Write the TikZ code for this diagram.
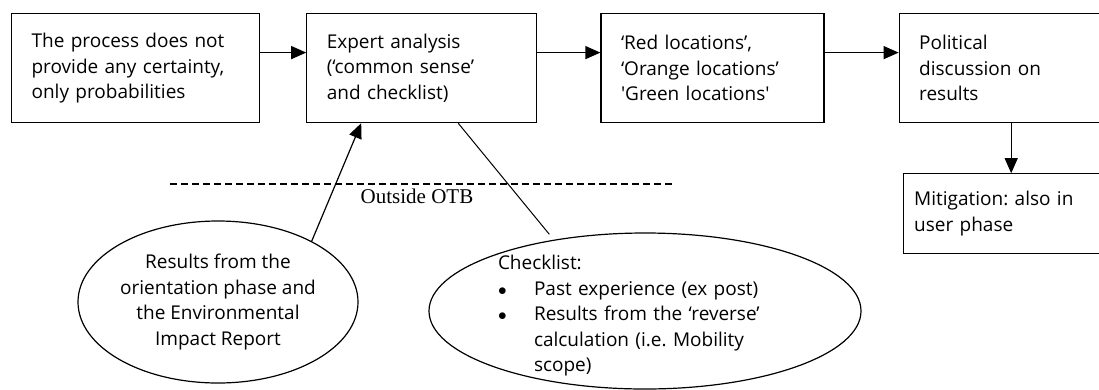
\documentclass[tikz,border=0pt]{standalone}
\usepackage{fontspec}
\setmainfont{Open Sans}
\newfontfamily\otbfont{Liberation Serif}
\usetikzlibrary{shapes.geometric, arrows.meta, positioning}
\frenchspacing

\begin{document}
\begin{tikzpicture}[x=1pt, y=-1pt, node distance = 46pt, auto,
    font=\fontsize{19}{25.5}\selectfont]
  \tikzstyle{block} = [rectangle, draw, line width=1.2pt, text=black, align=left,
      inner xsep=20pt, minimum height=109pt]
  \tikzstyle{bubble} = [ellipse, draw, line width=1.2pt, inner sep=0pt, align=center]
  \tikzstyle{line} = [draw, line width=1.2pt, -{Triangle[length=15pt, width=13pt]}]
  \tikzstyle{link} = [draw, line width=1pt]
  \newcommand{\itembullet}{\makebox[36pt][l]{$\bullet$}}
  \useasboundingbox (0,0) rectangle (1099,389);
      % Place nodes
      \node [block, text width=208pt, anchor=north west] (certainty) at (11,13)
          {The process does not\\ provide any certainty,\\ only probabilities};
      \node [block, text width=190pt, right=46pt of certainty] (expert)
          {Expert analysis\\ (‘common sense’\\ and checklist)};
      \node [block, text width=183pt, right=63pt of expert] (colours)
          {‘Red locations’,\\ ‘Orange locations’\\ \textquotesingle Green locations\textquotesingle};
      \node [block, text width=162pt, right=74pt of colours] (politics)
          {Political\\ discussion on\\ results};
      \node [block, text width=176pt, inner xsep=11pt, minimum height=80pt,
          below left=50pt and 0pt of politics.south east] (mitigation)
          {Mitigation: also in\\ user phase};
      \node [bubble, minimum width=280pt, minimum height=162pt] (results) at (218,302)
          {Results from the\\ orientation phase and\\ the Environmental\\ Impact Report};
      \node [bubble, minimum width=432pt, minimum height=156pt] (checklist) at (645,311) {};
      \node [align=left, text width=276pt, inner sep=0pt] (items)
          at ([xshift=-9pt, yshift=-5pt]checklist.center)
          {Checklist:\\
           \itembullet Past experience (ex post)\\
           \itembullet Results from the ‘reverse’\\
           \hspace*{36pt}calculation (i.e. Mobility\\
           \hspace*{36pt}scope)};
      \node [font=\otbfont\fontsize{21}{24}\selectfont] (otb) at (417,196) {Outside OTB};

  %paths
      \path [line] ([yshift=15.5pt]certainty.east) -- ([yshift=15.5pt]expert.west);
      \path [line] ([yshift=15.5pt]expert.east) -- ([yshift=15.5pt]colours.west);
      \path [line] ([yshift=15.5pt]colours.east) -- ([yshift=15.5pt]politics.west);
      \path [line] ([xshift=11pt]politics.south) -- ([xshift=11pt]politics.south |- mitigation.north);
      \path [line] (results.33) -- ([xshift=55pt]expert.south west);
      \path [link, shorten >=7pt] ([xshift=152pt]expert.south west) -- (checklist.142);
      \draw [line width=1.2pt, dash pattern=on 7pt off 4pt] (170,184) -- (672,184);

  \end{tikzpicture}
\end{document}
